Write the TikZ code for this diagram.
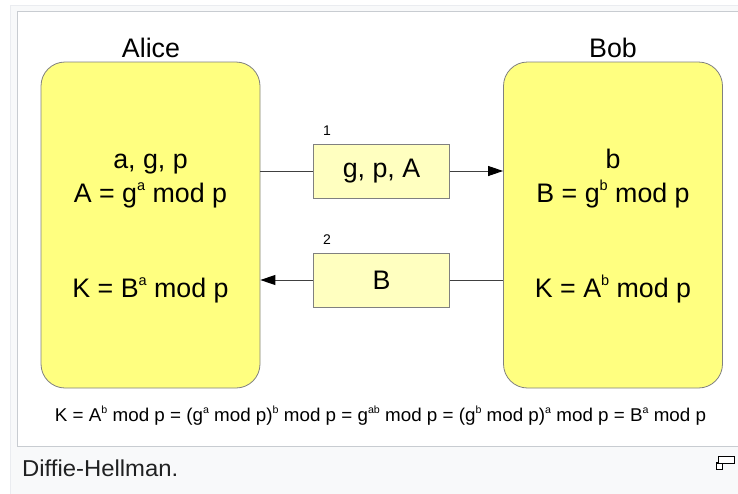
\documentclass[tikz,border=0pt]{standalone}
\usepackage{fontspec}
\setmainfont{Liberation Sans}
\usetikzlibrary{arrows.meta}

\definecolor{boxyellow}{HTML}{FFFF80}
\definecolor{msgyellow}{HTML}{FFFFC0}
\definecolor{boxedge}{HTML}{808080}
\definecolor{wire}{HTML}{404040}
\definecolor{framefill}{HTML}{F8F9FA}
\definecolor{frameedge}{HTML}{EAECF0}
\definecolor{imageedge}{HTML}{C8CCD1}
\definecolor{captext}{HTML}{202122}

% raised exponent with an explicit size
\newcommand\upper[2][14.5]{\raisebox{0.43em}{\fontsize{#1}{#1}\selectfont #2}}

\begin{document}
\begin{tikzpicture}[x=1pt,y=-1pt,
  party/.style={draw=boxedge, fill=boxyellow, rounded corners=24pt, line width=0.8pt,
    minimum width=219pt, minimum height=326pt, inner sep=0pt},
  msgbox/.style={draw=boxedge, fill=msgyellow, line width=0.8pt,
    minimum width=136pt, minimum height=54pt, inner sep=0pt,
    font=\fontsize{26.8}{30}\selectfont},
  bigtext/.style={font=\fontsize{26.8}{30}\selectfont, inner sep=0pt, anchor=base},
  steplabel/.style={font=\fontsize{14}{16}\selectfont, inner sep=0pt, anchor=base},
  wireline/.style={draw=wire, line width=1pt},
  tip/.style={-{Triangle[length=15pt, width=10pt, color=black, fill=black]}}
]
\useasboundingbox (0,0) rectangle (738,493);

% page and thumbnail frame
\fill[white] (0,0) rectangle (738,493);
\draw[frameedge, fill=framefill, line width=1pt] (10.5,5.5) rectangle (760,510);
\draw[imageedge, fill=white, line width=1.2pt] (17.5,11.5) rectangle (760,446.5);

% the two parties
\node[party] (alice) at (150.5,225) {};
\node[party] (bob)   at (613,225) {};
\node[bigtext] (alicename) at (151,57) {Alice};
\node[bigtext] (bobname)   at (613,57) {Bob};

\node[bigtext] (a1) at (150.5,168) {a, g, p};
\node[bigtext] (a2) at (150.5,202) {A = g\upper{a} mod p};
\node[bigtext] (a3) at (150.5,297) {K = B\upper{a} mod p};

\node[bigtext] (b1) at (613,168) {b};
\node[bigtext] (b2) at (613,202) {B = g\upper{b} mod p};
\node[bigtext] (b3) at (613,297) {K = A\upper{b} mod p};

% messages
\node[msgbox] (m1) at (381.5,171) {g, p, A};
\node[msgbox] (m2) at (381.5,280) {B};
\node[steplabel] (n1) at (327,135) {1};
\node[steplabel] (n2) at (327,244.5) {2};

\draw[wireline] (m1.west -| alice.east) -- (m1.west);
\draw[wireline, tip] (m1.east) -- (m1.east -| bob.west);
\draw[wireline] (m2.east -| bob.west) -- (m2.east);
\draw[wireline, tip] (m2.west) -- (m2.west -| alice.east);

% shared key
\node[inner sep=0pt, anchor=base, font=\fontsize{18.5}{20}\selectfont] (key) at (380.5,421.5)
  {\resizebox{651pt}{\height}{K = A\upper[10.5]{b} mod p = (g\upper[10.5]{a} mod p)\upper[10.5]{b} mod p = g\upper[10.5]{ab} mod p = (g\upper[10.5]{b} mod p)\upper[10.5]{a} mod p = B\upper[10.5]{a} mod p}};

% caption and enlarge icon
\node[inner sep=0pt, anchor=base west, text=captext, font=\fontsize{23}{26}\selectfont] (caption) at (22,476)
  {\resizebox{156pt}{\height}{Diffie-Hellman.}};
\draw[black, line width=1.3pt, fill=white] (716.5,463) rectangle (722.5,469.5);
\draw[black, line width=1.3pt, fill=white] (718.5,456.5) rectangle (734.5,463.5);
\end{tikzpicture}
\end{document}
